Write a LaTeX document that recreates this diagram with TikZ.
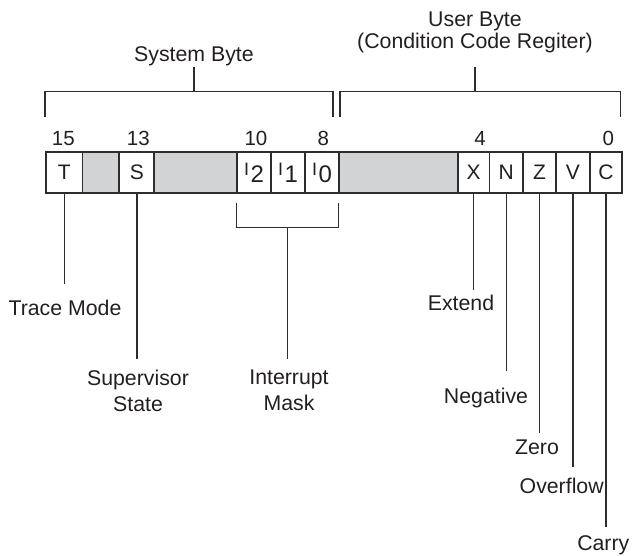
\documentclass[tikz,border=0pt]{standalone}
\usepackage{fontspec}
\setmainfont{Liberation Sans}
\definecolor{linec}{RGB}{45,45,45}
\definecolor{textc}{RGB}{35,31,32}
\definecolor{greyc}{RGB}{209,211,212}
\newcommand{\cellfont}{\fontsize{21}{21}\selectfont}
\newcommand{\lblfont}{\fontsize{21.3}{26}\selectfont}
\newcommand{\numfont}{\fontsize{20.5}{20}\selectfont}
\newcommand{\ibit}[1]{\raisebox{7pt}{\fontsize{18}{18}\selectfont I}\hspace{1.5pt}{\fontsize{24}{24}\selectfont #1}}
\begin{document}
\begin{tikzpicture}[x=1pt,y=-1pt,
  cell/.style={draw=linec, line width=1.7pt, minimum height=41pt, inner sep=0pt, text=textc, font=\cellfont},
  greycell/.style={cell, fill=greyc},
  conn/.style={draw=linec, line width=1.2pt},
  lbl/.style={font=\lblfont, text=textc, inner sep=0pt, align=center},
  num/.style={font=\numfont, text=textc, anchor=base, inner sep=0pt}]
\useasboundingbox (0,0) rectangle (633,556);
% register cells (grey first, so white cells' borders lie on top)
\node[greycell, minimum width=36.5pt] (g1) at (100.75,172.5) {};
\node[greycell, minimum width=83pt]   (g2) at (195.5,172.5) {};
\node[greycell, minimum width=119pt]  (g3) at (398.5,172.5) {};
\node[cell, minimum width=36.5pt] (cT) at (64.25,172.5) {T};
\node[cell, minimum width=35pt]   (cS) at (137,172.5) {S};
\node[cell, minimum width=34pt]   (cI2) at (254,172.5) {\ibit{2}};
\node[cell, minimum width=34pt]   (cI1) at (288,172.5) {\ibit{1}};
\node[cell, minimum width=34pt]   (cI0) at (322,172.5) {\ibit{0}};
\node[cell, minimum width=31.5pt] (cX) at (473.75,172.5) {X};
\node[cell, minimum width=33.5pt] (cN) at (506.25,172.5) {N};
\node[cell, minimum width=33pt]   (cZ) at (539.5,172.5) {Z};
\node[cell, minimum width=34pt]   (cV) at (573,172.5) {V};
\node[cell, minimum width=32pt]   (cC) at (606,172.5) {C};
% bit numbers
\node[num] (n15) at (63.3,145.7) {15};
\node[num] (n13) at (138.3,145.7) {13};
\node[num] (n10) at (256,145.7) {10};
\node[num] (n8)  at (323.3,145.7) {8};
\node[num] (n4)  at (480,145.7) {4};
\node[num] (n0)  at (608.3,145.7) {0};
% titles and top brackets
\node[lbl, anchor=base] (sysb) at (194,62) {System Byte};
\node[lbl, anchor=north, font=\fontsize{21.3}{22}\selectfont] (userb) at (475,11.5) {User Byte\\(Condition Code Regiter)};
\coordinate (sysstem) at (194,66.7);
\coordinate (usrstem) at (475,66.7);
\coordinate (sysmid) at (194,91.7);
\coordinate (usrmid) at (475,91.7);
\coordinate (sbl) at (45,116.7);
\coordinate (sbr) at (333,116.7);
\coordinate (ubl) at (340,116.7);
\coordinate (ubr) at (620.7,116.7);
\draw[conn] (sbl) |- (sysmid) -| (sbr);
\draw[conn] (sysstem) -- (sysmid);
\draw[conn] (ubl) |- (usrmid) -| (ubr);
\draw[conn] (usrstem) -- (usrmid);
% bottom labels
\node[lbl, anchor=base] (ltrace) at (65,316) {Trace Mode};
\node[lbl, anchor=north] (lsup) at (138,369.5) {Supervisor\\State};
\node[lbl, anchor=north] (lint) at (289,369.5) {Interrupt\\Mask};
\node[lbl, anchor=base] (lext) at (461,310.7) {Extend};
\node[lbl, anchor=base] (lneg) at (486,403.3) {Negative};
\node[lbl, anchor=base] (lzero) at (537,454.3) {Zero};
\node[lbl, anchor=base] (lovf) at (561.7,493.3) {Overflow};
\node[lbl, anchor=base] (lcar) at (603.3,550.5) {Carry};
% connectors
\coordinate (eT) at (cT.south |- 0,284);
\coordinate (eS) at (cS.south |- 0,359);
\draw[conn] (cT.south) -- (eT);
\draw[conn] (cS.south) -- (eS);
\coordinate (ibl) at (236.5,202.7);
\coordinate (ibr) at (338.5,202.7);
\coordinate (ibs) at (287.7,227.3);
\coordinate (eI) at (287.7,359);
\draw[conn] (ibl) |- (ibs) -| (ibr);
\draw[conn] (ibs) -- (eI);
\coordinate (eX) at (cX.south |- 0,290);
\coordinate (eN) at (cN.south |- 0,371);
\coordinate (eZ) at (cZ.south |- 0,433);
\coordinate (eV) at (cV.south |- 0,467);
\coordinate (eC) at (cC.south |- 0,527);
\draw[conn] (cX.south) -- (eX);
\draw[conn] (cN.south) -- (eN);
\draw[conn] (cZ.south) -- (eZ);
\draw[conn] (cV.south) -- (eV);
\draw[conn] (cC.south) -- (eC);
\end{tikzpicture}
\end{document}
